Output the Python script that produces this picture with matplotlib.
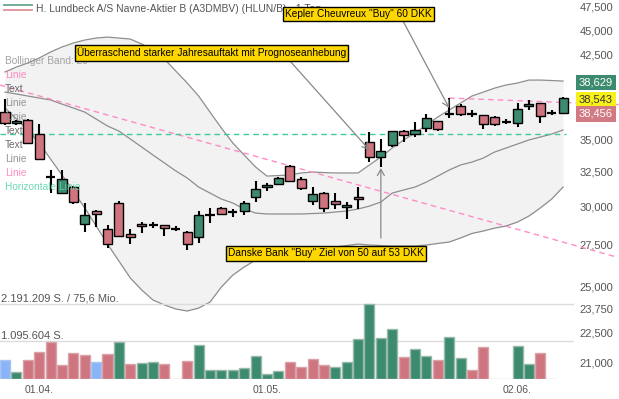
import numpy as np
import matplotlib
matplotlib.use("Agg")
import matplotlib.pyplot as plt
from matplotlib import transforms as mtrans
from matplotlib.ticker import FixedLocator, FuncFormatter, NullLocator, NullFormatter

plt.rcParams['font.family'] = ['Liberation Sans', 'DejaVu Sans']

# ---------------- data ----------------
title = "H. Lundbeck A/S Navne-Aktier B (A3DMBV) (HLUN/B) - 1 Tag"

opens = [37.31, 36.33, 36.61, 35.45, 32.14, 30.96, 31.39, 28.84, 29.71, 28.51,
         30.26, 28.19, 28.84, 28.77, 28.77, 28.51, 28.31, 27.99, 29.46, 29.90,
         29.64, 29.71, 30.68, 31.39, 31.61, 32.94, 31.97, 30.40, 30.96, 30.40,
         29.97, 30.68, 34.81, 33.63, 34.59, 35.70, 35.45, 35.94, 36.52, 37.11,
         37.80, 37.11, 37.03, 36.86, 36.47, 36.36, 37.80, 38.06, 37.20, 37.20]
highs = [38.41, 36.60, 36.69, 36.27, 32.64, 32.64, 31.45, 30.26, 29.75, 28.77,
         30.40, 28.51, 28.97, 28.97, 28.80, 28.71, 28.38, 29.71, 29.92, 30.01,
         29.85, 30.40, 31.83, 31.68, 32.12, 33.02, 32.12, 31.39, 31.03, 30.96,
         30.31, 31.39, 35.61, 35.05, 35.70, 35.80, 36.44, 37.11, 36.55, 38.50,
         37.98, 37.46, 37.05, 36.94, 36.69, 38.06, 38.33, 38.06, 37.46, 38.60]
lows = [36.19, 36.19, 34.65, 33.45, 30.96, 30.96, 30.19, 28.31, 28.64, 27.29,
        27.99, 27.55, 28.25, 28.58, 28.06, 28.38, 27.17, 27.61, 28.91, 29.42,
        29.31, 29.44, 30.33, 31.11, 31.54, 31.75, 31.18, 30.12, 29.64, 29.85,
        29.15, 29.85, 33.25, 32.87, 34.41, 34.81, 35.21, 35.61, 35.70, 36.78,
        36.94, 36.86, 35.86, 36.11, 36.27, 36.02, 37.46, 36.36, 37.03, 37.11]
closes = [36.33, 36.55, 34.73, 33.48, 32.14, 31.97, 30.33, 29.44, 29.51, 27.55,
          28.06, 27.99, 28.71, 28.77, 28.58, 28.51, 27.55, 29.44, 29.46, 29.53,
          29.64, 30.26, 31.25, 31.54, 32.05, 31.83, 31.32, 30.89, 29.92, 30.19,
          30.13, 30.54, 33.63, 34.09, 35.68, 35.40, 35.78, 36.78, 35.86, 37.11,
          37.15, 37.11, 36.27, 36.27, 36.47, 37.54, 37.98, 36.94, 37.20, 38.543]

volumes = [564000, 195000, 543000, 796000, 1067000, 398000, 756000, 689000, 494000, 727000,
           1067000, 427000, 465000, 494000, 427000, 0, 523000, 988000, 273000, 273000,
           273000, 331000, 680000, 145000, 244000, 494000, 349000, 593000, 418000, 340000,
           506000, 1174000, 2191209, 1190000, 1444000, 631000, 872000, 668000, 543000, 1212000,
           610000, 262000, 921000, 0, 0, 970000, 436000, 767000, 0, np.nan]
vol_dir = ['f', 'u', 'd', 'd', 'd', 'd', 'd', 'd', 'f', 'd',
           'u', 'd', 'u', 'u', 'd', 'f', 'd', 'u', 'u', 'u',
           'u', 'u', 'u', 'u', 'u', 'd', 'd', 'd', 'd', 'u',
           'u', 'u', 'u', 'u', 'u', 'd', 'u', 'u', 'd', 'u',
           'u', 'd', 'd', 'f', 'f', 'u', 'u', 'd', 'f', 'f']
turnover_mio = 75.6

bb_upper = [40.87, 41.34, 41.72, 42.20, 42.79, 43.28, 43.68, 43.98, 44.18, 44.28,
            44.18, 44.08, 43.58, 42.98, 42.10, 40.96, 39.85, 38.68, 37.28, 35.94,
            34.73, 33.78, 32.87, 32.19, 32.23, 32.27, 32.42, 32.49, 32.45, 32.42,
            32.42, 32.42, 33.02, 33.63, 34.33, 34.97, 35.53, 36.19, 36.86, 37.46,
            38.06, 38.68, 39.03, 39.39, 39.67, 39.85, 40.12, 40.12, 40.08, 40.03]
bb_middle = [39.03, 38.86, 38.68, 38.50, 38.33, 37.97, 37.63, 37.28, 36.69, 36.11,
             35.69, 35.05, 34.41, 33.78, 33.17, 32.57, 32.05, 31.39, 30.96, 30.54,
             30.26, 29.85, 29.57, 29.51, 29.51, 29.51, 29.51, 29.54, 29.57, 29.64,
             29.71, 29.85, 30.05, 30.33, 30.96, 31.18, 31.39, 31.75, 32.19, 32.64,
             33.02, 33.24, 33.55, 34.02, 34.33, 34.65, 34.97, 35.21, 35.45, 35.78]
bb_lower = [37.63, 36.69, 35.78, 34.73, 33.47, 32.27, 31.10, 29.92, 28.71, 27.54,
            26.49, 25.48, 24.79, 24.22, 23.95, 23.73, 23.62, 23.78, 24.11, 24.96,
            25.65, 26.13, 26.55, 26.73, 26.83, 26.92, 27.04, 27.17, 27.29, 27.36,
            27.45, 27.54, 27.48, 27.45, 27.42, 27.42, 27.42, 27.48, 27.58, 27.67,
            27.93, 28.22, 28.38, 28.57, 28.71, 28.97, 29.37, 29.92, 30.54, 31.39]

x_tick_idx = [3, 23, 45]
x_tick_labels = ["01.04.", "01.05.", "02.06."]
y_ticks = [21.0, 22.5, 23.75, 25.0, 27.5, 30.0, 32.5, 35.0, 42.5, 45.0, 47.5]

hline_level = 35.45
trend_x = [-0.44, 53.73]
trend_y = [39.67, 26.73]
level_x = [39, 53.9]
level_y = [38.50, 37.93]

quote_ask = 38.629
quote_last = 38.543
quote_bid = 38.456

legend_items = [("Bollinger Band: 20", "#9a9a9a"), ("Linie", "#ff7fbf"), ("Text", "#5a5a5a"),
                ("Linie", "#8a8a8a"), ("Linie", "#8a8a8a"), ("Text", "#5a5a5a"),
                ("Text", "#5a5a5a"), ("Linie", "#8a8a8a"), ("Linie", "#ff7fbf"),
                ("Horizontale Linie", "#5fd6aa")]

ann1_text = "Überraschend starker Jahresauftakt mit Prognoseanhebung"
ann1_target = (32, 34.17)
ann2_text = 'Kepler Cheuvreux "Buy" 60 DKK'
ann2_target = (39, 37.63)
ann3_text = 'Danske Bank "Buy" Ziel von 50 auf 53 DKK'
ann3_target = (33, 32.79)
ann3_start = (33, 27.93)

# ---------------- figure ----------------
W, H = 619, 399
fig = plt.figure(figsize=(W / 100, H / 100), dpi=100)
AXW, AXH = 574, 379
ax = fig.add_axes([0, (H - AXH) / H, AXW / W, AXH / H])
ax.set_facecolor('none')
ax.set_yscale('log')
ax.set_ylim(20.21, 48.21)
ax.set_xlim(-0.44, 49.96)
for s in ax.spines.values():
    s.set_visible(False)

def fx(px):
    return px / AXW

def fy(py):
    return 1 - py / AXH

n = len(opens)
x = np.arange(n)
o = np.array(opens); h = np.array(highs); l = np.array(lows); c = np.array(closes)

# Bollinger
ax.fill_between(x, bb_lower, bb_upper, color='#f2f2f2', lw=0, zorder=1)
for band in (bb_upper, bb_middle, bb_lower):
    ax.plot(x, band, color='#8e8e8e', lw=0.9, zorder=2)

# lines
ax.plot(trend_x, trend_y, color='#ff8cc6', lw=1.0, dashes=(4, 3), clip_on=False, zorder=2.5)
ax.plot(level_x, level_y, color='#ff8cc6', lw=1.0, dashes=(4, 3), clip_on=False, zorder=2.5)
ax.plot([-0.44, 49.3], [hline_level, hline_level], color='#3ccc9c', lw=1.0, dashes=(4, 3), zorder=2.5)

# candles
up_col, dn_col = '#3d8b6f', '#cf737e'
ax.vlines(x, l, h, color='black', lw=1.5, zorder=3)
doji = np.isclose(o, c)
body = ~doji
cols = np.where(c >= o, up_col, dn_col)
ax.bar(x[body], np.abs(c - o)[body], bottom=np.minimum(o, c)[body], width=0.8,
       color=cols[body], edgecolor='black', lw=1.0, zorder=4)
ax.hlines(o[doji], x[doji] - 0.4, x[doji] + 0.4, color='black', lw=1.6, zorder=4)

# axes ticks
ax.yaxis.tick_right()
ax.yaxis.set_major_locator(FixedLocator(y_ticks))
ax.yaxis.set_minor_locator(NullLocator())
ax.yaxis.set_minor_formatter(NullFormatter())
ax.yaxis.set_major_formatter(FuncFormatter(lambda v, p: f"{v:.3f}".replace('.', ',')))
ax.tick_params(axis='y', length=0, pad=4, labelsize=8, labelcolor='#555555')
ax.set_xticks(x_tick_idx)
ax.set_xticklabels(x_tick_labels)
ax.tick_params(axis='x', length=0, pad=4, labelsize=7.5, labelcolor='#555555')

# title + icon
ax.plot([fx(4), fx(32)], [fy(5), fy(5)], transform=ax.transAxes, color='#64a98c', lw=1.3, clip_on=False)
ax.plot([fx(4), fx(32)], [fy(10), fy(10)], transform=ax.transAxes, color='#e0909a', lw=1.3, clip_on=False)
ax.text(fx(36), fy(8.5), title, transform=ax.transAxes, fontsize=7.5, color='#555555',
        va='center', ha='left', zorder=5)

# legend list
for k, (txt, col) in enumerate(legend_items):
    ax.text(fx(5), fy(61 + 14 * k), txt, transform=ax.transAxes, fontsize=7.3, color=col,
            va='center', ha='left', alpha=0.9, zorder=8)

# annotations
box = dict(boxstyle='square,pad=0.22', fc='#ffd700', ec='black', lw=1)
arrow = dict(arrowstyle='->,head_length=0.45,head_width=0.25', color='#888888', lw=0.9,
             shrinkA=0, shrinkB=0)
ax.annotate('', xy=ann1_target, xytext=(fx(290), fy(61)), textcoords='axes fraction',
            arrowprops=arrow, zorder=9)
ax.annotate('', xy=ann2_target, xytext=(fx(403), fy(21)), textcoords='axes fraction',
            arrowprops=arrow, zorder=9)
ax.annotate('', xy=ann3_target, xytext=ann3_start, textcoords='data',
            arrowprops=arrow, zorder=9)
ax.text(fx(77), fy(53), ann1_text, transform=ax.transAxes, fontsize=7.3, va='center', ha='left',
        bbox=box, zorder=10)
ax.text(fx(285), fy(14), ann2_text, transform=ax.transAxes, fontsize=7.3, va='center', ha='left',
        bbox=box, zorder=10)
ax.text(fx(228), fy(253.5), ann3_text, transform=ax.transAxes, fontsize=7.3, va='center', ha='left',
        bbox=box, zorder=10)

# quote labels
def de3(v):
    return f"{v:.3f}".replace('.', ',')

for val, py, fc, tc in [(quote_ask, 82.5, '#3d8b6f', 'white'),
                        (quote_last, 99.5, '#f7f01a', '#333333'),
                        (quote_bid, 114, '#d27a84', 'white')]:
    ax.text(fx(579), fy(py), de3(val), transform=ax.transAxes, fontsize=8, color=tc,
            va='center', ha='left', clip_on=False, zorder=11,
            bbox=dict(boxstyle='square,pad=0.25', fc=fc, ec='none'))

# ---------------- volume ----------------
VH = 89
vax = fig.add_axes([0, (H - AXH) / H, AXW / W, VH / H])
vax.set_xlim(-0.44, 49.96)
vmax = np.nanmax(volumes)
vax.set_ylim(0, VH * (vmax / 2) / 37.7)
vax.set_axis_off()
vax.patch.set_visible(False)

vax.axhline(vmax, color='#dcdcdc', lw=1, zorder=0)
vax.axhline(vmax / 2, color='#dcdcdc', lw=1, zorder=0)

fill = {'u': '#3d8b6f', 'd': '#cf7580', 'f': '#8ab4f8'}
edge = {'u': '#97b9aa', 'd': '#d9a3a9', 'f': '#a9c6f0'}
vols = np.array(volumes, dtype=float)
for i in range(n):
    if np.isnan(vols[i]):
        continue
    d = vol_dir[i]
    ec = '#cccccc' if vols[i] == 0 else edge[d]
    vax.bar(x[i], vols[i], width=0.88, color=fill[d], edgecolor=ec, lw=1, zorder=2)

def de_int(v):
    return f"{int(v):,}".replace(',', '.')

tr = mtrans.blended_transform_factory(vax.transAxes, vax.transData)
vax.text(0.002, vmax, f"{de_int(vmax)} S. / {str(turnover_mio).replace('.', ',')} Mio.",
         transform=tr, fontsize=8, color='#555555', va='bottom', ha='left')
vax.text(0.002, vmax / 2, f"{de_int(vmax / 2)} S.", transform=tr, fontsize=8,
         color='#555555', va='bottom', ha='left')

fig.savefig('out.png', dpi=100, facecolor='white')
